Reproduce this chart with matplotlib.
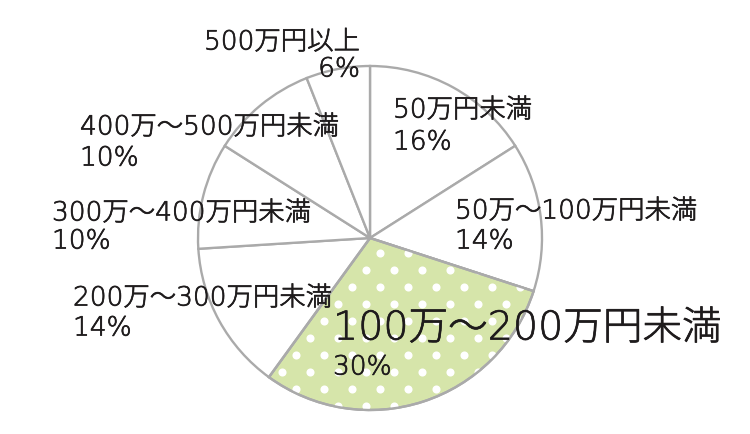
import numpy as np
import matplotlib.pyplot as plt
import matplotlib.patheffects as pe
from matplotlib.patches import Wedge

plt.rcParams['font.family'] = ['DejaVu Sans', 'Noto Sans CJK JP']

labels = ['50万円未満', '50万～100万円未満', '100万～200万円未満', '200万～300万円未満',
          '300万～400万円未満', '400万～500万円未満', '500万円以上']
pct = [16, 14, 30, 14, 10, 10, 6]
highlight = 2

# label layout in pixel coords (x, y of first line center, align)
label_pos = [(393, 110, 'left'), (455, 211, 'left'), (333, 328, 'left'), (73, 298, 'left'),
             (52, 213, 'left'), (80, 127, 'left'), (360, 42, 'right')]
line_gap = [32, 30, 39, 30, 28, 31, 27]

W, H = 750, 434
fig = plt.figure(figsize=(7.5, 4.34), dpi=100)
ax = fig.add_axes([0, 0, 1, 1])
ax.set_xlim(0, W)
ax.set_ylim(H, 0)
ax.axis('off')

cx, cy, r = 370, 238, 172
green = '#d6e5aa'
edge = '#aaaaaa'

# y axis inverted: angles run clockwise on screen, start at top (-90)
start = -90.0
wedges = []
for i, p in enumerate(pct):
    sweep = p / sum(pct) * 360
    w = Wedge((cx, cy), r, start, start + sweep,
              facecolor=green if i == highlight else 'white',
              edgecolor=edge, linewidth=1.7, zorder=2)
    ax.add_patch(w)
    wedges.append(w)
    start += sweep

# white polka dots inside the highlighted slice
dx, dy = 28.0, 17.0
pts = []
for j, yy in enumerate(np.arange(cy - r, cy + r + dy, dy)):
    off = 0 if j % 2 == 0 else dx / 2
    for xx in np.arange(cx - r - dx + off, cx + r + dx, dx):
        pts.append((xx, yy))
pts = np.array(pts)
dots = ax.scatter(pts[:, 0], pts[:, 1], s=34, color='white', linewidths=0, zorder=3)
dots.set_clip_path(wedges[highlight])
hl = wedges[highlight]
ax.add_patch(Wedge((cx, cy), r, hl.theta1, hl.theta2, facecolor='none',
                   edgecolor=edge, linewidth=1.7, zorder=4))

txt_col = '#1e1b1c'
thick = [pe.withStroke(linewidth=0.5, foreground=txt_col)]
for i, (lab, p) in enumerate(zip(labels, pct)):
    x, y, ha = label_pos[i]
    fs = 28.5 if i == highlight else 19
    ax.text(x, y, lab, fontsize=fs, ha=ha, va='center', color=txt_col,
            fontweight='light', zorder=5, path_effects=thick)
    ax.text(x, y + line_gap[i], f'{p}%', fontsize=19, ha=ha, va='center',
            color=txt_col, fontweight='light', zorder=5, path_effects=thick)

fig.savefig('out.png', dpi=100)
